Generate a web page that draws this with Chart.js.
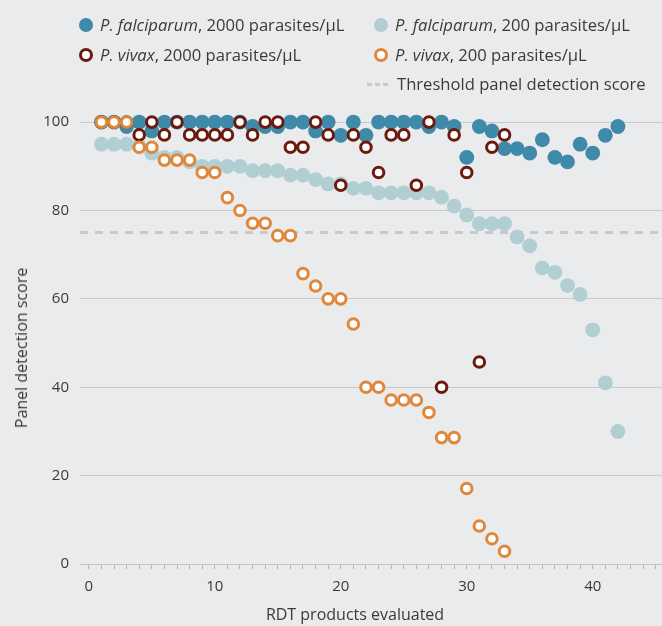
<!DOCTYPE html>
<html>
<head>
<meta charset="utf-8">
<script src="https://cdn.jsdelivr.net/npm/chart.js@4.4.1/dist/chart.umd.min.js"></script>
<style>
  html, body { margin: 0; padding: 0; background: #eaebed; }
  #wrap { position: relative; width: 662px; height: 626px; overflow: hidden;
          font-family: 'Open Sans', 'Noto Sans', sans-serif; color: #3a3a3a; }
  #chart { position: absolute; left: 0; top: 0; }
  .lg { position: absolute; font-size: 16.6px; line-height: 20px; white-space: nowrap; }
  .mk { position: absolute; box-sizing: border-box; border-radius: 50%; }
  .dash { position: absolute; height: 3px;
          background: repeating-linear-gradient(90deg, #c9c9c9 0 5px, transparent 5px 8px); }
  .axt { position: absolute; font-size: 16px; white-space: nowrap; }
</style>
</head>
<body>
<div id="wrap">
  <canvas id="chart" width="662" height="626"></canvas>
  <div id="legend"></div>
  <div class="axt" id="xTitle" style="left:355px; top:614px; transform:translate(-50%,-50%);">RDT products evaluated</div>
  <div class="axt" id="yTitle" style="left:21px; top:348px; transform:translate(-50%,-50%) rotate(-90deg);">Panel detection score</div>
</div>
<script>
// RDT product numbers
const pfProducts = [1, 2, 3, 4, 5, 6, 7, 8, 9, 10, 11, 12, 13, 14, 15, 16, 17, 18, 19, 20, 21,
                    22, 23, 24, 25, 26, 27, 28, 29, 30, 31, 32, 33, 34, 35, 36, 37, 38, 39, 40, 41, 42];
const pvProducts = [1, 2, 3, 4, 5, 6, 7, 8, 9, 10, 11, 12, 13, 14, 15, 16, 17, 18, 19, 20, 21,
                    22, 23, 24, 25, 26, 27, 28, 29, 30, 31, 32, 33];

// panel detection scores
const pf2000 = [100, 100, 99, 100, 98, 100, 100, 100, 100, 100, 100, 100, 99, 99, 99, 100, 100, 98, 100, 97, 100,
                97, 100, 100, 100, 100, 99, 100, 99, 92, 99, 98, 94, 94, 93, 96, 92, 91, 95, 93, 97, 99];
const pf200 = [95, 95, 95, 94.5, 93, 92, 92, 91, 90, 90, 90, 90, 89, 89, 89, 88, 88, 87, 86, 86, 85,
               85, 84, 84, 84, 84, 84, 83, 81, 79, 77, 77, 77, 74, 72, 67, 66, 63, 61, 53, 41, 30];
const pv2000 = [100, 100, 100, 97.1, 100, 97.1, 100, 97.1, 97.1, 97.1, 97.1, 100, 97.1, 100, 100, 94.3, 94.3,
                100, 97.1, 85.7, 97.1, 94.3, 88.6, 97.1, 97.1, 85.7, 100, 40, 97.1, 88.6, 45.7, 94.3, 97.1];
const pv200 = [100, 100, 100, 94.3, 94.3, 91.4, 91.4, 91.4, 88.6, 88.6, 82.9, 80, 77.1, 77.1, 74.3, 74.3, 65.7,
               62.9, 60, 60, 54.3, 40, 40, 37.1, 37.1, 37.1, 34.3, 28.6, 28.6, 17.1, 8.6, 5.7, 2.9];

const thresholdScore = 75;
const xRange = [-0.7, 45.5];
const yRange = [0, 105];

const FONT = "'Open Sans', 'Noto Sans', sans-serif";
const BLUE = '#3f8aa9';
const LIGHT = '#b1cfd2';
const DARKRED = '#6b1a0d';
const ORANGE = '#df873b';

function pts(xs, ys) {
    return xs.map((x, i) => ({ x: x, y: ys[i] }));
}

const series = [
    { species: 'P. falciparum', dens: '2000', xs: pfProducts, ys: pf2000, color: BLUE, open: false, order: 4, lx: 86, ly: 25 },
    { species: 'P. falciparum', dens: '200', xs: pfProducts, ys: pf200, color: LIGHT, open: false, order: 3, lx: 381, ly: 25 },
    { species: 'P. vivax', dens: '2000', xs: pvProducts, ys: pv2000, color: DARKRED, open: true, order: 2, lx: 86, ly: 55 },
    { species: 'P. vivax', dens: '200', xs: pvProducts, ys: pv200, color: ORANGE, open: true, order: 1, lx: 381, ly: 55 }
];

const datasets = series.map(s => ({
    label: s.species + ', ' + s.dens + ' parasites/μL',
    data: pts(s.xs, s.ys),
    order: s.order,
    pointRadius: s.open ? 5.3 : 7.4,
    pointBorderWidth: s.open ? 3 : 0,
    pointBackgroundColor: s.open ? '#ffffff' : s.color,
    pointBorderColor: s.color,
    pointHoverRadius: s.open ? 5.3 : 7.4
}));

datasets.push({
    type: 'line',
    label: 'Threshold panel detection score',
    data: [{ x: xRange[0], y: thresholdScore }, { x: xRange[1], y: thresholdScore }],
    order: 5,
    borderColor: '#c9c9c9',
    borderWidth: 3,
    borderDash: [8, 7],
    pointRadius: 0,
    fill: false
});

// legend
const legend = document.getElementById('legend');
series.forEach(s => {
    const mk = document.createElement('div');
    mk.className = 'mk';
    mk.style.left = (s.lx - 7) + 'px';
    mk.style.top = (s.ly - 7) + 'px';
    mk.style.width = '14px';
    mk.style.height = '14px';
    if (s.open) {
        mk.style.background = '#fff';
        mk.style.border = '3px solid ' + s.color;
    } else {
        mk.style.background = s.color;
    }
    legend.appendChild(mk);
    const t = document.createElement('div');
    t.className = 'lg';
    t.style.left = (s.lx + 14) + 'px';
    t.style.top = (s.ly - 10) + 'px';
    t.innerHTML = '<i>' + s.species + '</i>, ' + s.dens + ' parasites/μL';
    legend.appendChild(t);
});
const dash = document.createElement('div');
dash.className = 'dash';
dash.style.left = '367px';
dash.style.top = '83px';
dash.style.width = '24px';
legend.appendChild(dash);
const thr = document.createElement('div');
thr.className = 'lg';
thr.style.left = '397px';
thr.style.top = '74px';
thr.textContent = 'Threshold panel detection score';
legend.appendChild(thr);

new Chart(document.getElementById('chart').getContext('2d'), {
    type: 'scatter',
    data: { datasets: datasets },
    options: {
        responsive: false,
        animation: false,
        layout: { autoPadding: false, padding: { top: 100, left: 0, right: 0, bottom: 0 } },
        plugins: { legend: { display: false }, tooltip: { enabled: false } },
        scales: {
            x: {
                type: 'linear',
                min: xRange[0],
                max: xRange[1],
                border: { display: true, color: '#c3c4c6', width: 1 },
                grid: { drawOnChartArea: false, drawTicks: true, tickLength: 5, color: '#b5b6b8' },
                ticks: {
                    stepSize: 1,
                    autoSkip: false,
                    includeBounds: false,
                    maxRotation: 0,
                    padding: 9,
                    color: '#3a3a3a',
                    font: { family: FONT, size: 15 },
                    callback: v => (v % 10 === 0 ? v : '')
                },
                afterFit: s => { s.height = 62; s.paddingLeft = 0; s.paddingRight = 0; }
            },
            y: {
                min: yRange[0],
                max: yRange[1],
                border: { display: false },
                grid: { color: '#c8c9cb', drawTicks: false },
                ticks: {
                    stepSize: 20,
                    includeBounds: false,
                    padding: 11,
                    color: '#3a3a3a',
                    font: { family: FONT, size: 15 }
                },
                afterFit: s => { s.width = 80; s.paddingTop = 0; s.paddingBottom = 0; }
            }
        }
    }
});
</script>
</body>
</html>
